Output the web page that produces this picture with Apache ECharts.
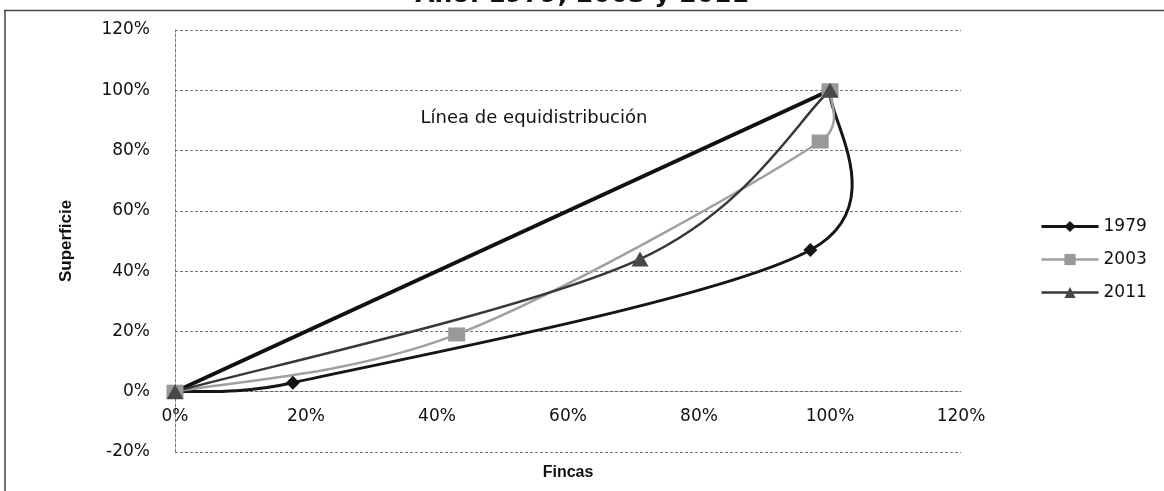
<!DOCTYPE html>
<html><head><meta charset="utf-8">
<script src="https://cdn.jsdelivr.net/npm/echarts@6/dist/echarts.min.js"></script>
<style>html,body{margin:0;padding:0;background:#fff}#c{width:1164px;height:491px}</style>
</head><body><div id="c"></div>
<script>
// ---- data (fractions: x = Fincas, y = Superficie) ----
const titleText = 'Año: 1979, 2003 y 2011';
const seriesNames = ['1979', '2003', '2011'];
const data1979 = [[0, 0], [0.18, 0.03], [0.97, 0.47], [1.0, 1.0]];
const data2003 = [[0, 0], [0.43, 0.19], [0.985, 0.83], [1.0, 1.0]];
const data2011 = [[0, 0], [0.71, 0.44], [1.0, 1.0]];
const dataEquidist = [[0, 0], [1.0, 1.0]];
const equidistLabel = 'Línea de equidistribución';
const xTicks = [0, 0.2, 0.4, 0.6, 0.8, 1.0, 1.2];
const yTicks = [-0.2, 0, 0.2, 0.4, 0.6, 0.8, 1.0, 1.2];

const pct = v => Math.round(v * 100) + '%';
const labelFont = 'DejaVu Sans';
const nameFont = '"Liberation Sans Narrow", "Liberation Sans", sans-serif';

// grid layout (pixels)
const GRID = { left: 175, right: 203, top: 30, bottom: 39 };
const gridH = 491 - GRID.top - GRID.bottom;
const yMin = yTicks[0], yMax = yTicks[yTicks.length - 1];
// horizontal axis crosses the vertical axis at 0 (Excel style)
const xAxisOffset = -gridH * (0 - yMin) / (yMax - yMin);

// Excel-style smoothed curve: cubic Bezier with Catmull-Rom (1/6) control points,
// each limited to half the segment length; drawn in pixel space via api.coord
const SX = 0.8;
function dist(a, b) { const dx = (a[0] - b[0]) * SX, dy = a[1] - b[1]; return Math.sqrt(dx * dx + dy * dy); }
function smoothRenderer(points, color, width) {
  return function (params, api) {
    if (params.dataIndex !== 0) return;
    const p = points.map(d => api.coord(d));
    const n = p.length;
    const children = [];
    for (let i = 0; i < n - 1; i++) {
      const p0 = p[Math.max(i - 1, 0)], p1 = p[i], p2 = p[i + 1], p3 = p[Math.min(i + 2, n - 1)];
      const d12 = dist(p1, p2), d02 = dist(p0, p2), d13 = dist(p1, p3);
      let f1 = 1 / 6, f2 = 1 / 6;
      if (d02 / 6 > d12 / 2) f1 = d12 / (2 * d02);
      if (d13 / 6 > d12 / 2) f2 = d12 / (2 * d13);
      children.push({
        type: 'bezierCurve',
        shape: {
          x1: p1[0], y1: p1[1], x2: p2[0], y2: p2[1],
          cpx1: p1[0] + (p2[0] - p0[0]) * f1, cpy1: p1[1] + (p2[1] - p0[1]) * f1,
          cpx2: p2[0] - (p3[0] - p1[0]) * f2, cpy2: p2[1] - (p3[1] - p1[1]) * f2
        },
        style: { stroke: color, lineWidth: width, fill: null, lineCap: 'round' }
      });
    }
    return { type: 'group', children };
  };
}

const styles = {
  '1979': { color: '#151515', width: 3, symbol: 'diamond', size: 14, mcolor: '#151515' },
  '2003': { color: '#a0a0a0', width: 2.5, symbol: 'rect', size: [17, 14], mcolor: '#999999' },
  '2011': { color: '#383838', width: 2.5, symbol: 'triangle', size: [17, 15], mcolor: '#484848' }
};
const seriesData = { '1979': data1979, '2003': data2003, '2011': data2011 };

const series = [];
series.push({
  name: 'equidist', type: 'line', data: dataEquidist, showSymbol: false, symbol: 'none',
  lineStyle: { color: '#111', width: 4 }, z: 2, silent: true
});
seriesNames.forEach((nm, i) => {
  const st = styles[nm];
  series.push({
    name: nm + '_curve', type: 'custom', coordinateSystem: 'cartesian2d',
    data: [seriesData[nm][0]], renderItem: smoothRenderer(seriesData[nm], st.color, st.width),
    z: 3 + i, silent: true
  });
  series.push({
    name: nm, type: 'line', data: seriesData[nm], symbol: st.symbol, symbolSize: st.size,
    showSymbol: true, itemStyle: { color: st.mcolor, borderWidth: 0 },
    lineStyle: { opacity: 0, width: st.width, color: st.color }, z: 6 + i
  });
});

const chart = echarts.init(document.getElementById('c'), null, { renderer: 'canvas' });
chart.setOption({
  backgroundColor: '#fff',
  animation: false,
  title: {
    text: titleText, left: 'center', top: -17, padding: 0,
    textStyle: { fontFamily: labelFont, fontWeight: 'bold', fontSize: 25, color: '#111' }
  },
  grid: Object.assign({ containLabel: false, outerBoundsMode: 'none' }, GRID),
  legend: {
    orient: 'vertical', left: 1035, top: 213, itemWidth: 57, itemHeight: 14, itemGap: 16,
    textStyle: { fontFamily: labelFont, fontSize: 17, color: '#111', lineHeight: 17 },
    data: seriesNames.map(nm => ({
      name: nm,
      lineStyle: { opacity: 1, width: styles[nm].width, color: styles[nm].color }
    }))
  },
  xAxis: {
    type: 'value', min: xTicks[0], max: xTicks[xTicks.length - 1], interval: 0.2,
    position: 'bottom', offset: xAxisOffset,
    name: 'Fincas', nameLocation: 'middle', nameGap: 73,
    nameTextStyle: { fontFamily: nameFont, fontWeight: 'bold', fontSize: 16, color: '#111' },
    axisLine: { onZero: false, lineStyle: { color: '#666', type: [3, 2], width: 1 } },
    axisTick: { show: false },
    axisLabel: { formatter: pct, margin: 16, fontFamily: labelFont, fontSize: 17, color: '#111' },
    splitLine: { show: false }
  },
  yAxis: {
    type: 'value', min: yMin, max: yMax, interval: 0.2,
    name: 'Superficie', nameLocation: 'middle', nameGap: 100,
    nameTextStyle: { fontFamily: nameFont, fontWeight: 'bold', fontSize: 17, color: '#111' },
    axisLine: { show: true, onZero: false, lineStyle: { color: '#777', type: [3, 2], width: 1 } },
    axisTick: { show: false },
    axisLabel: { formatter: pct, margin: 25, fontFamily: labelFont, fontSize: 17, color: '#111' },
    splitLine: { show: true, lineStyle: { color: '#777', type: [3, 2], width: 1 } }
  },
  graphic: [
    { type: 'line', shape: { x1: 4, y1: 10.5, x2: 1164, y2: 10.5 }, style: { stroke: '#444', lineWidth: 1.5 }, silent: true },
    { type: 'line', shape: { x1: 5, y1: 10, x2: 5, y2: 491 }, style: { stroke: '#444', lineWidth: 1.5 }, silent: true },
    { type: 'text', x: 534, y: 118, style: { text: equidistLabel, fontFamily: labelFont, fontSize: 18, fill: '#111', align: 'center', verticalAlign: 'middle' }, silent: true }
  ],
  series
});
</script>
</body></html>
